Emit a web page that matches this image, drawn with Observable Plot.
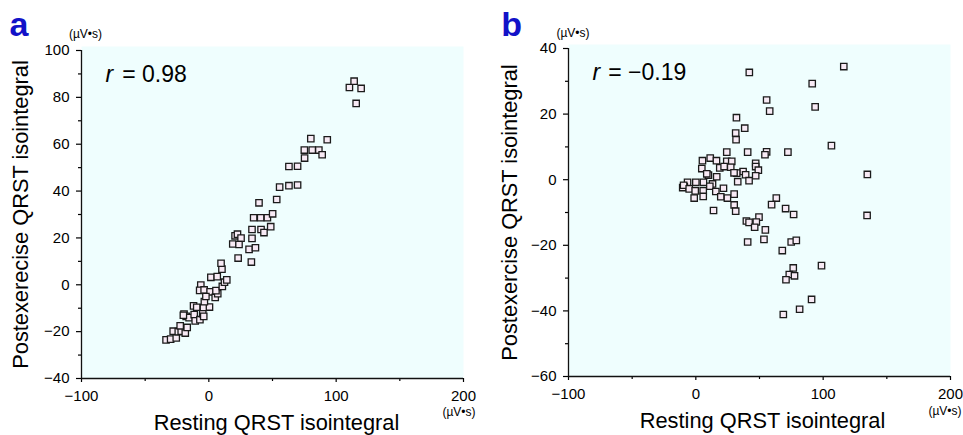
<!DOCTYPE html>
<html>
<head>
<meta charset="utf-8">
<script src="https://cdn.jsdelivr.net/npm/d3@7"></script>
<script src="https://cdn.jsdelivr.net/npm/@observablehq/plot@0.6"></script>
<style>
  html, body { margin: 0; padding: 0; background: #fff; }
  #wrap { position: relative; width: 963px; height: 435px; overflow: hidden; }
  #pa, #pb { position: absolute; top: 0; }
  #pa { left: 0; }
  #pb { left: 481px; }
</style>
</head>
<body>
<div id="wrap"><div id="pa"></div><div id="pb"></div></div>
<script>
// ---------- Data ----------
const xTicks = [-100, 0, 100, 200];
const xMinor = [-50, 50, 150];

// Panel a: resting vs postexercise QRST isointegral (µV•s)
const restA = [-33.6,-30.0,-25.6,-28.0,-24.0,-21.7,-18.5,-22.5,-17.0,-19.5,-17.8,-15.5,-11.5,-10.7,-7.0,-4.8,-12.0,-9.5,-4.2,0.5,-3.5,-6.3,-7.2,-3.7,1.0,5.0,7.0,5.6,1.6,6.6,10.6,12.3,14.1,10.3,9.6,18.8,20.6,22.5,25.3,23.7,23.0,31.6,36.6,33.4,33.9,33.9,41.0,43.3,48.6,35.2,40.7,46.0,50.1,39.4,53.3,55.6,62.9,69.7,62.9,69.7,75.2,75.0,81.2,86.4,89.0,80.1,93.0,110.4,114.1,119.6,115.7,-2.3,-20.0,-4.0];
const postA = [-23.5,-23.2,-22.7,-19.8,-20.0,-19.8,-20.6,-17.5,-18.2,-12.5,-13.5,-14.0,-12.7,-15.4,-14.9,-12.3,-9.0,-9.6,-9.7,-9.5,-7.2,-0.1,-2.4,-2.2,-3.0,-5.4,-3.8,-2.5,3.2,3.5,-0.7,1.1,2.1,6.7,9.2,17.4,20.9,21.6,19.9,17.2,11.4,15.1,15.8,9.7,19.8,23.6,23.6,22.3,24.8,28.6,28.6,28.6,30.3,35.0,36.4,41.7,42.3,42.6,50.5,50.6,54.1,57.5,57.5,57.5,55.5,62.4,61.9,84.2,86.9,83.8,77.4,-5.0,-13.0,-13.5];
const yTicksA = [-40, -20, 0, 20, 40, 60, 80, 100];
const yMinorA = [-30, -10, 10, 30, 50, 70, 90];

// Panel b
const restB = [42.0,116.2,91.4,93.7,55.6,58.0,31.9,38.4,31.3,31.6,106.5,72.3,55.6,54.3,40.7,24.3,134.7,134.5,5.2,11.3,16.2,24.3,28.2,18.8,27.4,22.2,4.7,9.9,16.4,8.6,47.0,47.0,49.1,47.0,37.1,39.1,32.1,30.0,41.8,32.9,-6.5,0.0,-9.1,-10.3,-9.6,-5.2,-0.5,-1.3,6.0,5.8,5.8,13.1,11.0,15.7,19.6,21.7,24.8,30.1,30.1,31.3,13.9,63.2,59.5,70.5,76.8,39.7,41.8,49.6,47.5,46.2,54.6,53.5,40.7,74.9,78.9,67.9,98.7,76.5,73.4,77.5,70.8,90.9,81.5,68.7];
const postB = [32.7,34.5,29.3,22.2,24.3,20.9,18.9,15.7,14.2,12.2,10.4,8.4,8.5,7.6,8.4,8.4,1.6,-10.9,5.8,6.6,5.8,5.6,5.6,3.6,3.8,4.0,3.4,1.4,0.9,1.8,5.0,4.0,2.9,1.2,2.5,1.5,2.0,2.1,-0.3,-0.6,-0.8,-0.8,-2.1,-2.4,-1.7,-2.8,-3.4,-5.6,-0.8,-3.4,-5.1,-1.3,-2.0,-3.6,-5.2,-2.6,-5.6,-4.4,-7.7,-9.6,-9.4,-5.6,-7.6,-8.8,-10.6,-12.6,-13.0,-11.4,-12.9,-14.5,-15.3,-18.2,-19.0,-19.0,-18.5,-21.6,-26.2,-26.9,-28.9,-29.3,-30.5,-36.5,-39.5,-41.1];
const yTicksB = [-60, -40, -20, 0, 20, 40];
const yMinorB = [-50, -30, -10, 10, 30];

const xTitle = "Resting QRST isointegral";
const yTitleA = "Postexerecise QRST isointegral";
const yTitleB = "Postexercise QRST isointegral";
const unit = "(µV•s)";

// ---------- Drawing ----------
const FONT = "'Liberation Sans', Arial, Helvetica, sans-serif";
const BG = "#effefe";
const fmt = d => d < 0 ? "\u2212" + Math.abs(d) : String(d);

function panel(o) {
  const data = o.xs.map((x, i) => ({x, y: o.ys[i]}));
  return Plot.plot({
    width: o.width, height: 435,
    marginLeft: o.ml, marginRight: o.mr, marginTop: o.mt, marginBottom: o.mb,
    x: {domain: [-100, 200]},
    y: {domain: o.yDomain},
    style: {fontFamily: FONT, fontSize: "15px", color: "#000", background: "transparent", overflow: "visible"},
    marks: [
      Plot.frame({fill: BG, stroke: "none", insetTop: -4}),
      Plot.axisX({ticks: xTicks, tickSize: 4, tickPadding: 8, tickFormat: fmt, label: null, fontSize: 15, strokeWidth: 1.2}),
      Plot.axisX({ticks: xMinor, tickSize: 3, text: null, label: null, strokeWidth: 1.2}),
      Plot.axisY({ticks: o.yTicks, tickSize: 5, tickPadding: 7, tickFormat: fmt, label: null, fontSize: 15, strokeWidth: 1.2}),
      Plot.axisY({ticks: o.yMinor, tickSize: 3, text: null, label: null, strokeWidth: 1.2}),
      Plot.ruleX([-100], {stroke: "#111", strokeWidth: 1.3}),
      Plot.ruleY([o.yDomain[0]], {stroke: "#111", strokeWidth: 1.3}),
      Plot.dot(data, {x: "x", y: "y", symbol: "square", r: 3.6, fill: "#f8eaf5", stroke: "#1b1b1b", strokeWidth: 1.3}),
      // panel letter
      Plot.text([o.letter], {text: d => d, frameAnchor: "top-left", dx: o.letterDx, dy: o.letterDy, textAnchor: "start", lineAnchor: "middle", fontSize: 34, fontWeight: "bold", fill: "#1212c8"}),
      // units
      Plot.text([unit], {text: d => d, frameAnchor: "top-left", dx: o.uTopDx, dy: o.uTopDy, textAnchor: "middle", lineAnchor: "middle", fontSize: 12}),
      Plot.text([unit], {text: d => d, frameAnchor: "bottom-right", dx: o.uBotDx, dy: o.uBotDy, textAnchor: "middle", lineAnchor: "middle", fontSize: 12}),
      // correlation
      Plot.text(["r"], {text: d => d, frameAnchor: "top-left", dx: 24, dy: 24.6, textAnchor: "start", lineAnchor: "middle", fontSize: 23, fontStyle: "italic"}),
      Plot.text([o.rText], {text: d => d, frameAnchor: "top-left", dx: o.rDx, dy: 24.6, textAnchor: "start", lineAnchor: "middle", fontSize: 23}),
      // axis titles
      Plot.text([xTitle], {text: d => d, frameAnchor: "bottom", dx: o.xtDx, dy: o.xtDy, textAnchor: "middle", lineAnchor: "middle", fontSize: 21.8}),
      Plot.text([o.yTitle], {text: d => d, frameAnchor: "left", dx: o.ytDx, dy: 0, rotate: -90, textAnchor: "middle", lineAnchor: "middle", fontSize: 21.8})
    ]
  });
}

document.getElementById("pa").appendChild(panel({
  xs: restA, ys: postA, yDomain: [-40, 100], yTicks: yTicksA, yMinor: yMinorA,
  width: 481, ml: 81, mr: 18, mt: 50, mb: 57,
  letter: "a", letterDx: -72, letterDy: -25,
  uTopDx: 4, uTopDy: -16, uBotDx: -4.5, uBotDy: 34,
  rText: "= 0.98", rDx: 40.7, xtDx: 4, xtDy: 44.3, ytDx: -60, yTitle: yTitleA
}));

document.getElementById("pb").appendChild(panel({
  xs: restB, ys: postB, yDomain: [-60, 40], yTicks: yTicksB, yMinor: yMinorB,
  width: 482, ml: 87, mr: 13, mt: 48, mb: 59,
  letter: "b", letterDx: -67.3, letterDy: -23,
  uTopDx: 4.5, uTopDy: -15, uBotDx: -5.5, uBotDy: 35,
  rText: "= \u22120.19", rDx: 39.7, xtDx: 3, xtDy: 44.8, ytDx: -58, yTitle: yTitleB
}));
</script>
</body>
</html>
